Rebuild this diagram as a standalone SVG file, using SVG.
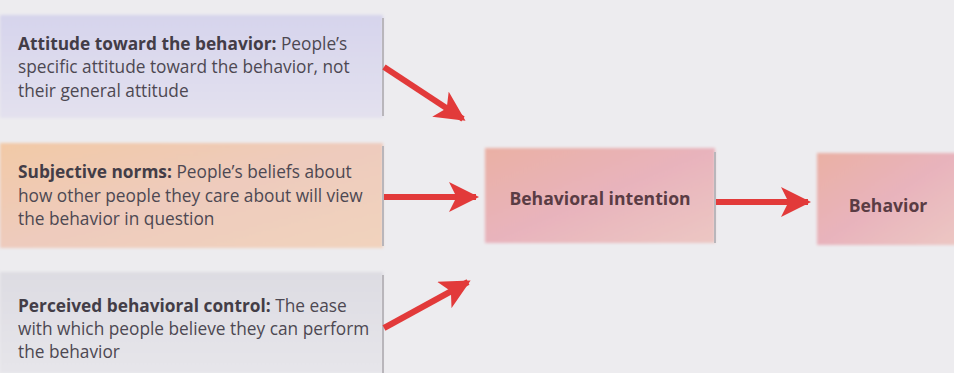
<svg xmlns="http://www.w3.org/2000/svg" width="954" height="373" viewBox="0 0 954 373">
<defs>
<style>
text{font-family:"Open Sans","Noto Sans","Liberation Sans",sans-serif;fill:#4d4852;}
.d{font-size:17.3px;}
.b{font-weight:bold;fill:#433d47;}
.n{font-size:17.6px;font-weight:bold;fill:#5a3c44;}
.arr{stroke:#e23a3a;stroke-width:6;fill:none;}
.edge{stroke:#b9b6bb;stroke-width:2;}
</style>
<linearGradient id="gA" x1="0" y1="0" x2="0" y2="1">
<stop offset="0" stop-color="#d6d4ec"/><stop offset="1" stop-color="#e3e1ee"/>
</linearGradient>
<linearGradient id="gS" x1="0" y1="0" x2="1" y2="1">
<stop offset="0" stop-color="#f2c9a6"/><stop offset="0.5" stop-color="#eecbbd"/><stop offset="1" stop-color="#f1d3bd"/>
</linearGradient>
<linearGradient id="gP" x1="0" y1="0" x2="0" y2="1">
<stop offset="0" stop-color="#dddce2"/><stop offset="1" stop-color="#e6e5ea"/>
</linearGradient>
<linearGradient id="gI" x1="0" y1="0" x2="1" y2="1">
<stop offset="0" stop-color="#eab0a4"/><stop offset="0.5" stop-color="#e8b3bc"/><stop offset="1" stop-color="#ecc7c3"/>
</linearGradient>
<marker id="ah" viewBox="0 0 10 10" refX="9" refY="5" markerWidth="5" markerHeight="5" markerUnits="strokeWidth" orient="auto">
<path d="M0,0 L10,5 L0,10 L2.5,5 Z" fill="#e23a3a"/>
</marker>
<filter id="soft" x="-5%" y="-10%" width="110%" height="120%"><feGaussianBlur stdDeviation="1.5"/></filter>
</defs>
<rect width="954" height="373" fill="#edecef"/>
<g id="attitude">
<rect x="0" y="15" width="383" height="103" fill="url(#gA)" filter="url(#soft)"/>
<line class="edge" x1="383" y1="18" x2="383" y2="116"/>
<text class="d" x="18" y="50"><tspan class="b">Attitude toward the behavior:</tspan> People’s</text>
<text class="d" x="18" y="73">specific attitude toward the behavior, not</text>
<text class="d" x="18" y="97">their general attitude</text>
</g>
<g id="norms">
<rect x="0" y="143" width="383" height="105" fill="url(#gS)" filter="url(#soft)"/>
<line class="edge" x1="383" y1="146" x2="383" y2="246"/>
<text class="d" x="18" y="178"><tspan class="b">Subjective norms:</tspan> People’s beliefs about</text>
<text class="d" x="18" y="202">how other people they care about will view</text>
<text class="d" x="18" y="225">the behavior in question</text>
</g>
<g id="control">
<rect x="0" y="272" width="383" height="101" fill="url(#gP)" filter="url(#soft)"/>
<line class="edge" x1="383" y1="275" x2="383" y2="373"/>
<text class="d" x="18" y="312"><tspan class="b">Perceived behavioral control:</tspan> The ease</text>
<text class="d" x="18" y="335">with which people believe they can perform</text>
<text class="d" x="18" y="358">the behavior</text>
</g>
<g id="intention">
<rect x="485" y="148" width="230" height="95" fill="url(#gI)" filter="url(#soft)"/>
<line class="edge" x1="715" y1="152" x2="715" y2="243"/>
<text class="n" x="600" y="205" text-anchor="middle">Behavioral intention</text>
</g>
<g id="behavior">
<rect x="817" y="153" width="140" height="92" fill="url(#gI)" filter="url(#soft)"/>
<text class="n" x="888" y="212" text-anchor="middle">Behavior</text>
</g>
<g id="connectors">
<line class="arr" x1="384" y1="67" x2="463" y2="119" marker-end="url(#ah)"/>
<line class="arr" x1="384" y1="197" x2="476" y2="197" marker-end="url(#ah)"/>
<line class="arr" x1="384" y1="328" x2="468" y2="282" marker-end="url(#ah)"/>
<line class="arr" x1="716" y1="202" x2="808" y2="202" marker-end="url(#ah)"/>
</g>
</svg>
